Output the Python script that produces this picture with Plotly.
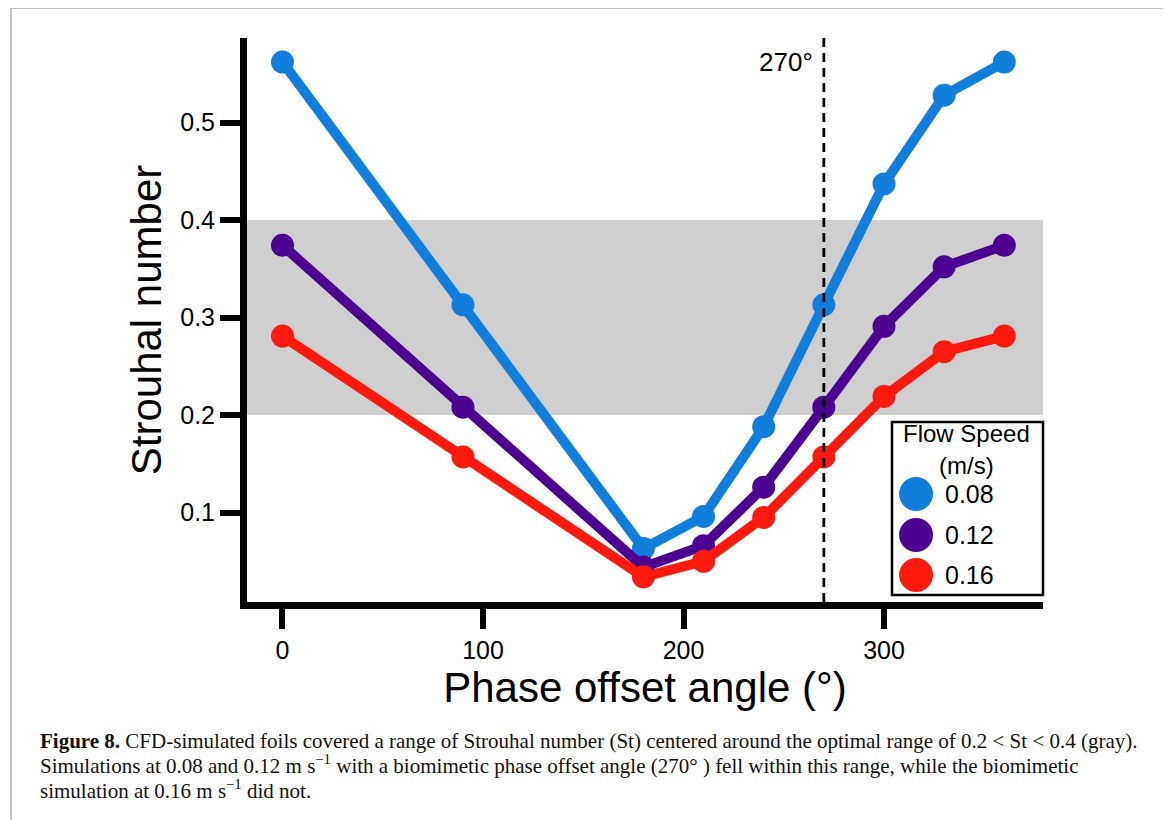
import plotly.graph_objects as go

# ---- data ----
phase_angles = [0, 90, 180, 210, 240, 270, 300, 330, 360]
speed_labels = ["0.08", "0.12", "0.16"]
st_008 = [0.562, 0.313, 0.063, 0.096, 0.188, 0.313, 0.437, 0.528, 0.562]
st_012 = [0.374, 0.208, 0.044, 0.066, 0.126, 0.208, 0.291, 0.352, 0.374]
st_016 = [0.281, 0.157, 0.034, 0.050, 0.095, 0.157, 0.219, 0.265, 0.281]
optimal_range = [0.2, 0.4]
biomimetic_angle = 270
x_ticks = [0, 100, 200, 300]
y_ticks = [0.1, 0.2, 0.3, 0.4, 0.5]

colors = ["#127EDC", "#4B0090", "#FF1A0D"]
series = [st_008, st_012, st_016]

SANS = "Liberation Sans, Arial, sans-serif"
SERIF = "Liberation Serif, Times New Roman, serif"

fig = go.Figure()

for vals, col, lab in zip(series, colors, speed_labels):
    fig.add_trace(go.Scatter(
        x=phase_angles, y=vals, mode="lines+markers", name=lab,
        line=dict(color=col, width=10),
        marker=dict(color=col, size=23),
        showlegend=False, cliponaxis=False,
    ))

# custom legend markers (on an overlay axis with 0..1 range)
leg_y = [0.1915, 0.1188, 0.0479]
fig.add_trace(go.Scatter(
    x=[0.8405] * 3, y=leg_y, mode="markers",
    marker=dict(color=colors, size=34),
    xaxis="x2", yaxis="y2", showlegend=False, cliponaxis=False,
    hoverinfo="skip",
))

shapes = [
    # gray optimal band
    dict(type="rect", xref="paper", yref="y", x0=0, x1=1,
         y0=optimal_range[0], y1=optimal_range[1],
         fillcolor="#CFCFCF", line=dict(width=0), layer="below"),
    # dashed 270 line
    dict(type="line", xref="x", yref="paper", x0=biomimetic_angle, x1=biomimetic_angle,
         y0=0, y1=1, line=dict(color="black", width=2.8, dash="9px,6px")),
    # legend box
    dict(type="rect", xref="paper", yref="paper", x0=0.8103, x1=1.0,
         y0=0.0124, y1=0.3191, line=dict(color="black", width=2.5),
         fillcolor="white", layer="below"),
    # figure border
    dict(type="rect", xref="paper", yref="paper", x0=-0.2965, x1=1.1545,
         y0=-0.42, y1=1.0532, line=dict(color="#B0B0B0", width=1.5)),
]

annotations = [
    dict(text="270°", x=biomimetic_angle, xref="x", y=0.957, yref="paper",
         xanchor="right", yanchor="middle", xshift=-9, showarrow=False,
         font=dict(family=SANS, size=26, color="black")),
    dict(text="Flow Speed", x=0.9045, y=0.2979, xref="paper", yref="paper",
         xanchor="center", yanchor="middle", showarrow=False,
         font=dict(family=SANS, size=24, color="black")),
    dict(text="(m/s)", x=0.9045, y=0.2429, xref="paper", yref="paper",
         xanchor="center", yanchor="middle", showarrow=False,
         font=dict(family=SANS, size=24, color="black")),
]
for lab, yy in zip(speed_labels, leg_y):
    annotations.append(dict(text=lab, x=0.908, y=yy, xref="paper", yref="paper",
                            xanchor="center", yanchor="middle", showarrow=False,
                            font=dict(family=SANS, size=25, color="black")))

caption_lines = [
    "<b>Figure 8.</b> CFD-simulated foils covered a range of Strouhal number (St) centered around the optimal range of 0.2 &lt; St &lt; 0.4 (gray).",
    "Simulations at 0.08 and 0.12 m s<sup>−1</sup> with a biomimetic phase offset angle (270° ) fell within this range, while the biomimetic",
    "simulation at 0.16 m s<sup>−1</sup> did not.",
]
cap_y = [-0.2465, -0.2890, -0.3316]
for line, yy in zip(caption_lines, cap_y):
    annotations.append(dict(text=line, x=-0.2626, y=yy, xref="paper", yref="paper",
                            xanchor="left", yanchor="middle", showarrow=False,
                            align="left",
                            font=dict(family=SERIF, size=21, color="#111111")))

fig.update_layout(
    width=1171, height=820,
    margin=dict(l=239, r=136, t=30, b=226),
    paper_bgcolor="white", plot_bgcolor="white",
    font=dict(family=SANS, color="black"),
    xaxis=dict(
        range=[-17.7, 379.3], tickvals=x_ticks, showgrid=False, zeroline=False,
        showline=True, linecolor="black", linewidth=7,
        ticks="outside", ticklen=20, tickwidth=6, tickcolor="black",
        tickfont=dict(size=25, family=SANS),
        title=dict(text="Phase offset angle (°)", font=dict(size=42, family=SANS), standoff=9),
    ),
    yaxis=dict(
        range=[0.0082, 0.5867], tickvals=y_ticks, showgrid=False, zeroline=False,
        showline=True, linecolor="black", linewidth=7,
        ticks="outside", ticklen=20, tickwidth=6, tickcolor="black",
        tickfont=dict(size=25, family=SANS),
        title=dict(text="Strouhal number", font=dict(size=42, family=SANS), standoff=8),
    ),
    xaxis2=dict(overlaying="x", range=[0, 1], visible=False, domain=[0, 1]),
    yaxis2=dict(overlaying="y", range=[0, 1], visible=False, domain=[0, 1]),
    shapes=shapes, annotations=annotations, showlegend=False,
)

fig.write_html("out.html")
